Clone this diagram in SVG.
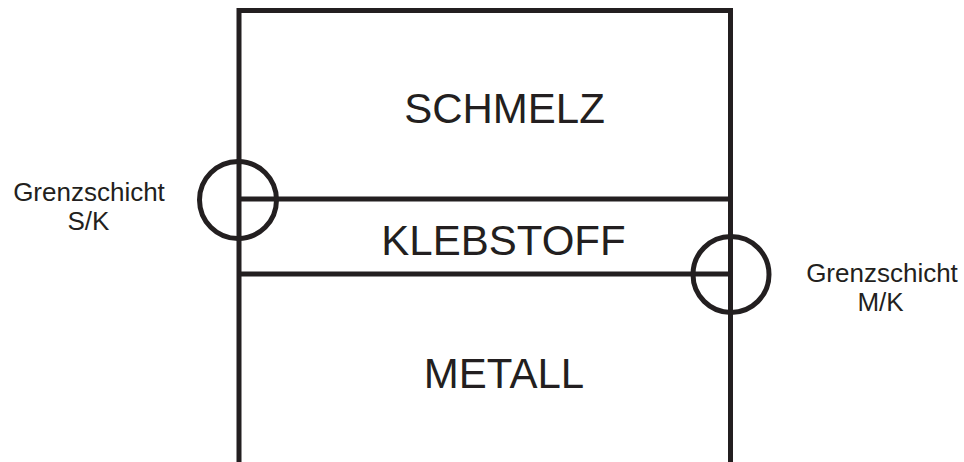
<svg xmlns="http://www.w3.org/2000/svg" width="964" height="462" viewBox="0 0 964 462">
  <style>
    .ln { stroke: #231f20; stroke-width: 5; fill: none; }
    .big { font-family: "Liberation Sans", Arial, sans-serif; font-size: 42px; fill: #231f20; text-anchor: middle; }
    .small { font-family: "Liberation Sans", Arial, sans-serif; font-size: 26px; fill: #231f20; text-anchor: middle; }
  </style>
  <rect width="964" height="462" fill="#ffffff"/>

  <!-- layer boundaries -->
  <g id="connectors">
    <path class="ln" d="M239,470 V10.5 H730.5 V470"/>
    <line class="ln" x1="239" y1="199" x2="730.5" y2="199"/>
    <line class="ln" x1="239" y1="274" x2="730.5" y2="274"/>
  </g>

  <!-- layers -->
  <g id="schmelz">
    <text class="big" x="504.5" y="123">SCHMELZ</text>
  </g>
  <g id="klebstoff">
    <text class="big" x="503.5" y="255">KLEBSTOFF</text>
  </g>
  <g id="metall">
    <text class="big" x="504" y="388">METALL</text>
  </g>

  <!-- interface markers -->
  <g id="grenzschicht-sk">
    <circle class="ln" cx="238" cy="200" r="38.5"/>
    <text class="small" x="89" y="201">Grenzschicht</text>
    <text class="small" x="88.5" y="230">S/K</text>
  </g>
  <g id="grenzschicht-mk">
    <circle class="ln" cx="731" cy="274.5" r="38"/>
    <text class="small" x="882" y="281.5">Grenzschicht</text>
    <text class="small" x="880.5" y="311">M/K</text>
  </g>
</svg>
